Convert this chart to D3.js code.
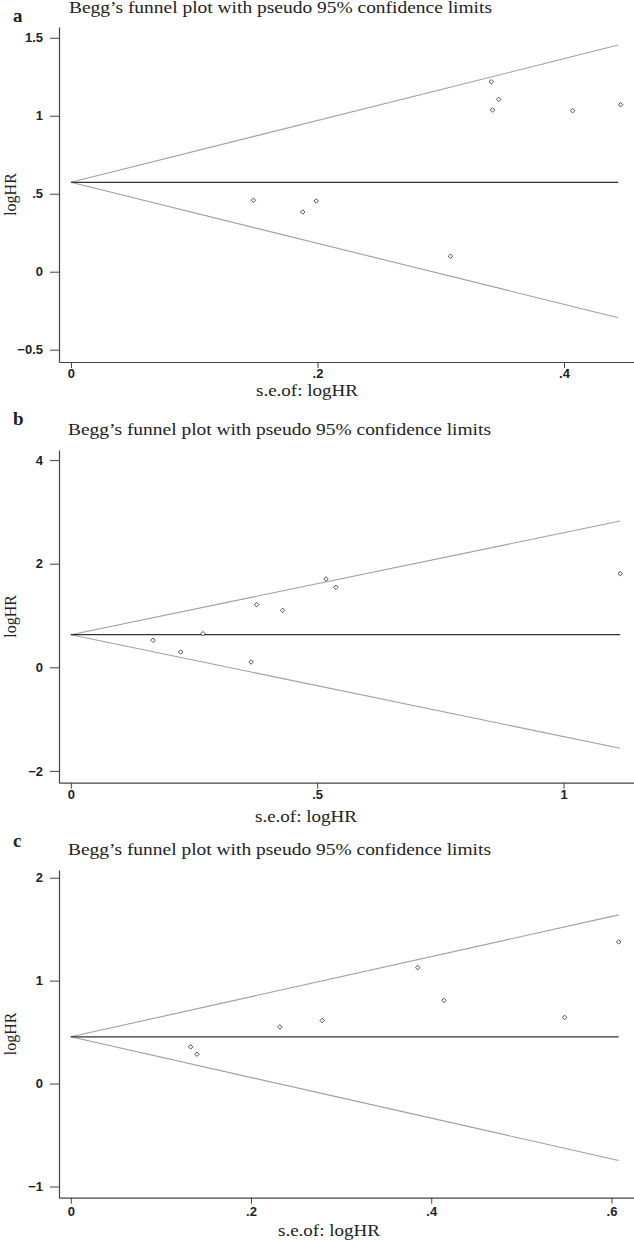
<!DOCTYPE html>
<html>
<head>
<meta charset="utf-8">
<script src="https://cdn.jsdelivr.net/npm/d3@7"></script>
<style>
  body { margin: 0; background: #fff; }
  svg { display: block; }
  .tick text { font-family: "Liberation Sans", Arial, sans-serif; font-weight: bold; font-size: 13px; fill: #222; }
  .domain, .tick line { stroke: #444; }
  .serif { font-family: "Liberation Serif", "Times New Roman", serif; fill: #222; }
</style>
</head>
<body>
<div class="visualisation"></div>
<script>
// Panel letters and title
const letters = ["a", "b", "c"];
const titleText = "Begg’s funnel plot with pseudo 95% confidence limits";

// Panel a: study points
const seA = [0.148, 0.188, 0.199, 0.308, 0.341, 0.347, 0.342, 0.407, 0.446];
const logHRA = [0.458, 0.383, 0.453, 0.100, 1.218, 1.105, 1.037, 1.032, 1.071];
// Panel b
const seB = [0.167, 0.223, 0.268, 0.366, 0.377, 0.430, 0.518, 0.538, 1.115];
const logHRB = [0.521, 0.295, 0.649, 0.102, 1.209, 1.100, 1.705, 1.544, 1.809];
// Panel c
const seC = [0.133, 0.140, 0.232, 0.279, 0.385, 0.414, 0.548, 0.608];
const logHRC = [0.357, 0.285, 0.551, 0.613, 1.126, 0.808, 0.643, 1.376];

// pooled estimate and pseudo 95% limits (at se = 0 and at max se)
const funnelSeA = [0, 0.444], upperA = [0.573, 1.453], lowerA = [0.573, -0.295];
const funnelSeB = [0, 1.115], upperB = [0.629, 2.824], lowerB = [0.629, -1.564];
const funnelSeC = [0, 0.608], upperC = [0.454, 1.639], lowerC = [0.454, -0.747];

// tick values
const yTicksA = [-0.5, 0, 0.5, 1, 1.5], xTicksA = [0, 0.2, 0.4];
const yTicksB = [-2, 0, 2, 4], xTicksB = [0, 0.5, 1];
const yTicksC = [-1, 0, 1, 2], xTicksC = [0, 0.2, 0.4, 0.6];

const width = 634, height = 1240;
const axisLeft = 59, axisRight = 634;

// layout of each panel (pixels) and axis extents
const panels = [
    { se: seA, est: logHRA, fse: funnelSeA, up: upperA, lo: lowerA, yt: yTicksA, xt: xTicksA,
      top: 27, bottom: 362, yDom: [-0.579, 1.569], xDom: [-0.0097, 0.4568],
      letterY: 21.5, titleX: 69, titleY: 13, tickY: 377.5, xTitleX: 307, xTitleY: 395.5 },
    { se: seB, est: logHRB, fse: funnelSeB, up: upperB, lo: lowerB, yt: yTicksB, xt: xTicksB,
      top: 450, bottom: 782.7, yDom: [-2.228, 4.195], xDom: [-0.024, 1.143],
      letterY: 425, titleX: 68, titleY: 435, tickY: 799.5, xTitleX: 306, xTitleY: 822 },
    { se: seC, est: logHRC, fse: funnelSeC, up: upperC, lo: lowerC, yt: yTicksC, xt: xTicksC,
      top: 870, bottom: 1197.7, yDom: [-1.109, 2.075], xDom: [-0.0131, 0.625],
      letterY: 847, titleX: 68, titleY: 855, tickY: 1216, xTitleX: 329, xTitleY: 1235.5 }
];

// Stata style numbers: ".5", "-.5"
const fmt = d => d3.format("")(d).replace(/^(-?)0\./, "$1.");

const svg = d3.select(".visualisation")
    .append("svg")
    .attr("width", width)
    .attr("height", height);

panels.forEach((p, i) => {
    const g = svg.append("g");

    const x = d3.scaleLinear().domain(p.xDom).range([axisLeft, axisRight]);
    const y = d3.scaleLinear().domain(p.yDom).range([p.bottom, p.top]);

    // letter + title (the source figure is stretched sideways, hence textLength)
    g.append("text").attr("class", "serif")
        .attr("x", 13).attr("y", p.letterY)
        .style("font-weight", "bold").style("font-size", "19px")
        .text(letters[i]);
    g.append("text").attr("class", "serif")
        .attr("x", p.titleX).attr("y", p.titleY)
        .attr("textLength", 423).attr("lengthAdjust", "spacingAndGlyphs")
        .style("font-size", "16px")
        .text(titleText);

    // axes
    g.append("g")
        .attr("transform", `translate(${axisLeft},0)`)
        .call(d3.axisLeft(y).tickValues(p.yt).tickFormat(fmt).tickSize(9).tickSizeOuter(0).tickPadding(7));
    const xAxis = g.append("g")
        .attr("transform", `translate(0,${p.bottom})`)
        .call(d3.axisBottom(x).tickValues(p.xt).tickFormat(fmt).tickSize(6).tickSizeOuter(0));
    xAxis.selectAll(".tick text").attr("y", p.tickY - p.bottom).attr("dy", 0);
    g.selectAll(".domain").attr("stroke-width", 1.2);

    // axis titles
    g.append("text").attr("class", "serif")
        .attr("x", p.xTitleX - 51).attr("y", p.xTitleY)
        .attr("textLength", 102).attr("lengthAdjust", "spacingAndGlyphs")
        .style("font-size", "17px")
        .text("s.e.of: logHR");
    g.append("text").attr("class", "serif")
        .attr("transform", `translate(15.5,${(p.top + p.bottom) / 2}) rotate(-90)`)
        .attr("text-anchor", "middle")
        .style("font-size", "16px")
        .text("logHR");

    // funnel lines
    const line = d3.line().x(d => x(d[0])).y(d => y(d[1]));
    g.append("path")
        .attr("d", line(d3.zip(p.fse, p.up)))
        .attr("fill", "none").attr("stroke", "#a0a0a0").attr("stroke-width", 1.1);
    g.append("path")
        .attr("d", line(d3.zip(p.fse, p.lo)))
        .attr("fill", "none").attr("stroke", "#a0a0a0").attr("stroke-width", 1.1);
    g.append("path")
        .attr("d", line(p.fse.map(s => [s, p.up[0]])))
        .attr("fill", "none").attr("stroke", "#333").attr("stroke-width", 1.2);

    // study points: hollow diamonds
    const sym = d3.symbol(d3.symbolSquare, 10);
    g.selectAll("path.pt")
        .data(d3.zip(p.se, p.est))
        .enter()
        .append("path")
        .attr("class", "pt")
        .attr("d", sym)
        .attr("transform", d => `translate(${x(d[0])},${y(d[1])}) rotate(45)`)
        .attr("fill", "#fff")
        .attr("stroke", "#444")
        .attr("stroke-width", 0.9);
});
</script>
</body>
</html>
